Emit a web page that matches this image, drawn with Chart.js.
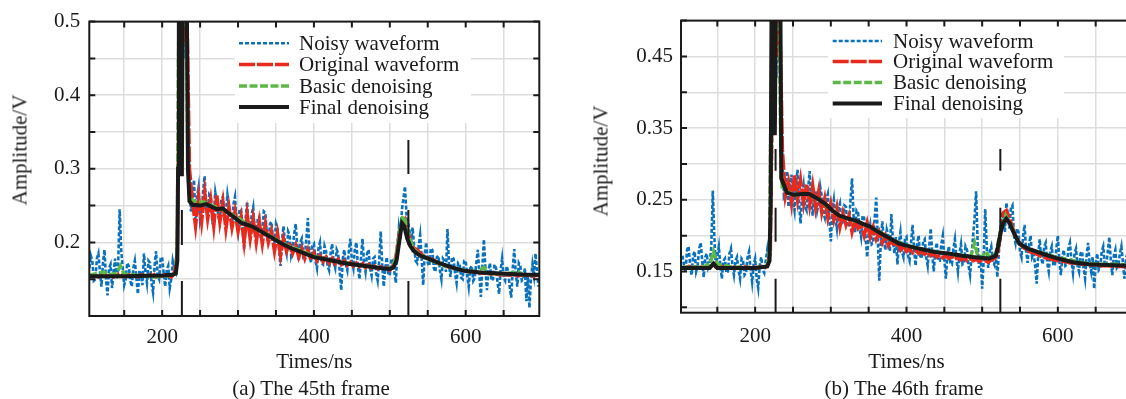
<!DOCTYPE html>
<html>
<head>
<meta charset="utf-8">
<script src="https://cdn.jsdelivr.net/npm/chart.js@4.4.0/dist/chart.umd.min.js"></script>
<style>
  html, body { margin:0; padding:0; background:#fff; overflow:hidden; width:1126px; height:399px; }
  .wrap { position:absolute; top:0; }
  .txt { position:absolute; font-family:'Liberation Serif','Times New Roman',serif; font-size:21px; color:#1a1a1a; white-space:nowrap; line-height:25px; }
  .ytitle { transform:translate(-50%,-50%) rotate(-90deg); }
  .caption { transform:translate(-50%,-50%); }
</style>
</head>
<body>
<div class="wrap" style="left:0"><canvas id="chart45" width="560" height="399"></canvas></div>
<div class="wrap" style="left:560px"><canvas id="chart46" width="600" height="399"></canvas></div>
<div class="txt ytitle" style="left:20px;top:150px">Amplitude/V</div>
<div class="txt ytitle" style="left:601px;top:161px">Amplitude/V</div>
<div class="txt caption" style="left:311px;top:388px">(a) The 45th frame</div>
<div class="txt caption" style="left:904px;top:388px">(b) The 46th frame</div>

<script>

// sampling grids: noisy record every 2 ns, original record every 4 ns
const noiseT  = Array.from({ length: 297 }, (_, i) => 104 + 2 * i)
const sampleT = Array.from({ length: 149 }, (_, i) => 104 + 4 * i)

const seriesNames = ['Noisy waveform', 'Original waveform', 'Basic denoising', 'Final denoising']

// ---- 45th frame ----
const noisy45 = [
  .165,.182,.175,.148,.150,.178,.185,.160,.140,.172,.190,.150,.128,.165,.170,.138,.160,.178,.150,.168,
  .245,.190,.165,.142,.150,.172,.168,.148,.140,.165,.175,.152,.130,.162,.158,.142,.185,.160,.145,.175,
  .172,.145,.132,.168,.188,.155,.150,.178,.180,.158,.140,.162,.168,.138,.150,.175,.165,.160,.200,.350,
  .560,.520,.450,.600,.580,.400,.270,.242,.260,.285,.222,.262,.275,.230,.240,.270,.290,.248,.235,.265,
  .262,.232,.238,.268,.255,.235,.228,.258,.262,.232,.240,.265,.250,.238,.222,.252,.262,.228,.215,.245,
  .245,.220,.190,.232,.255,.218,.210,.238,.248,.215,.205,.232,.235,.205,.215,.242,.240,.210,.198,.225,
  .228,.205,.200,.225,.218,.190,.168,.205,.222,.195,.185,.215,.210,.182,.190,.212,.225,.195,.175,.200,
  .205,.180,.182,.205,.233,.190,.172,.195,.198,.175,.165,.192,.200,.172,.170,.195,.188,.168,.162,.185,
  .198,.172,.165,.190,.185,.160,.135,.178,.190,.170,.162,.188,.205,.175,.165,.192,.200,.168,.150,.178,
  .205,.172,.160,.185,.190,.165,.155,.178,.180,.158,.148,.175,.215,.170,.140,.165,.180,.158,.155,.178,
  .175,.160,.145,.190,.220,.205,.245,.260,.276,.238,.230,.215,.200,.220,.195,.175,.172,.195,.210,.178,
  .142,.185,.200,.172,.168,.192,.190,.165,.160,.180,.182,.162,.150,.178,.175,.160,.218,.170,.153,.180,
  .178,.158,.145,.172,.170,.152,.150,.175,.175,.155,.140,.165,.168,.148,.152,.172,.190,.158,.126,.168,
  .204,.165,.135,.162,.172,.148,.150,.170,.165,.145,.130,.162,.178,.152,.148,.168,.160,.140,.125,.165,
  .191,.158,.140,.172,.168,.148,.150,.165,.120,.155,.111,.150,.170,.155,.185,.160,.140
]
const original45 = [
  .155,.154,.156,.153,.155,.157,.154,.155,.153,.156,
  .158,.155,.153,.156,.154,.155,.153,.156,.155,.154,
  .156,.158,.153,.155,.154,.156,.155,.153,.158,.185,
  .540,.470,.560,.300,.255,.222,.262,.228,.268,.232,
  .258,.222,.265,.228,.255,.218,.248,.220,.242,.215,
  .235,.200,.238,.205,.232,.200,.228,.198,.225,.200,
  .215,.188,.212,.182,.205,.188,.200,.185,.196,.180,
  .192,.178,.190,.176,.186,.175,.182,.174,.180,.172,
  .178,.171,.177,.170,.175,.169,.173,.168,.172,.167,
  .171,.166,.170,.165,.168,.164,.167,.163,.166,.162,
  .168,.180,.210,.228,.232,.215,.198,.192,.190,.186,
  .182,.180,.178,.177,.174,.172,.170,.169,.167,.166,
  .165,.164,.163,.162,.161,.161,.160,.159,.159,.158,
  .158,.158,.157,.157,.157,.156,.156,.156,.156,.155,
  .156,.155,.155,.156,.155,.155,.154,.155,.155
]
const basic45T = [104,123,130,140,145,150,170,190,210,218,220,221.5,223,226,228,232,234,236,245,255,265,275,285,300,320,340,360,380,400,430,460,490,502,508,513,517,521,526,532,545,560,580,600,615,624,630,650,670,675,697]
const basic45  = [.155,.160,.156,.158,.168,.157,.155,.153,.155,.158,.200,.450,.560,.500,.560,.500,.300,.260,.255,.255,.250,.247,.242,.233,.220,.210,.198,.190,.181,.174,.169,.165,.165,.178,.215,.236,.228,.205,.190,.180,.173,.166,.162,.160,.166,.158,.157,.160,.156,.156]
const final45T = [104,150,200,214,218,220,221,222,224.5,226,227.5,232,234,236,240,250,258,266,272,280,287,295,305,312,320,330,340,350,360,370,380,390,400,415,430,445,460,475,490,500,505,509,513,516,519,523,527,532,540,548,558,570,585,600,620,640,660,680,697]
const final45  = [.154,.154,.155,.156,.158,.175,.300,.600,.600,.290,.600,.600,.300,.256,.251,.250,.252,.248,.245,.246,.240,.234,.226,.224,.221,.215,.209,.203,.197,.192,.188,.184,.180,.177,.174,.171,.169,.167,.165,.164,.166,.176,.205,.226,.222,.205,.195,.188,.182,.179,.175,.170,.165,.161,.159,.158,.157,.156,.156]
const marks45 = [226, 524.5]
const markTop45 = 0.339

// ---- 46th frame ----
const noisy46 = [
  .172,.158,.150,.180,.185,.160,.145,.172,.178,.150,.158,.182,.190,.165,.142,.170,.175,.155,.160,.185,
  .263,.200,.155,.172,.185,.158,.140,.165,.168,.148,.150,.175,.182,.158,.145,.165,.170,.152,.140,.168,
  .165,.145,.148,.170,.178,.152,.135,.160,.168,.140,.127,.158,.170,.152,.148,.165,.180,.160,.190,.300,
  .520,.500,.420,.580,.560,.420,.300,.255,.260,.290,.240,.268,.285,.248,.235,.272,.292,.245,.217,.255,
  .270,.240,.235,.265,.290,.250,.228,.262,.262,.235,.245,.268,.255,.232,.225,.250,.258,.222,.192,.235,
  .250,.225,.210,.238,.245,.215,.220,.242,.240,.212,.215,.250,.280,.228,.205,.235,.232,.210,.198,.228,
  .225,.198,.170,.205,.215,.188,.190,.225,.253,.200,.137,.190,.220,.195,.180,.208,.200,.178,.230,.195,
  .175,.198,.160,.190,.205,.178,.170,.195,.198,.172,.165,.190,.215,.182,.158,.188,.200,.172,.168,.192,
  .195,.170,.158,.185,.210,.175,.150,.178,.190,.165,.165,.188,.200,.168,.140,.172,.185,.162,.160,.182,
  .195,.168,.150,.175,.188,.160,.162,.185,.180,.158,.145,.172,.200,.225,.262,.190,.155,.170,.126,.165,
  .237,.185,.155,.178,.185,.165,.160,.175,.142,.175,.210,.232,.225,.205,.246,.228,.210,.238,.242,.200,
  .190,.210,.205,.178,.170,.198,.215,.180,.162,.188,.200,.170,.175,.158,.133,.172,.195,.168,.160,.185,
  .190,.162,.150,.178,.185,.160,.158,.182,.200,.165,.145,.172,.180,.158,.160,.182,.190,.165,.148,.175,
  .182,.158,.150,.175,.178,.155,.140,.172,.190,.162,.150,.170,.126,.160,.175,.152,.155,.178,.185,.158,
  .160,.178,.198,.165,.145,.172,.180,.155,.158,.175,.185,.162,.140,.168,.175,.150,.162
]
const original46 = [
  .156,.155,.157,.155,.156,.154,.156,.155,.157,.156,
  .160,.156,.155,.157,.155,.156,.154,.156,.155,.156,
  .155,.157,.156,.154,.156,.155,.157,.155,.158,.175,
  .520,.450,.540,.320,.255,.275,.245,.285,.250,.278,
  .245,.272,.242,.270,.238,.262,.232,.252,.225,.245,
  .222,.240,.212,.232,.215,.228,.205,.222,.210,.215,
  .200,.218,.198,.212,.195,.205,.190,.200,.186,.194,
  .185,.190,.180,.186,.178,.182,.176,.180,.175,.178,
  .174,.177,.172,.175,.170,.173,.169,.172,.168,.171,
  .167,.170,.166,.169,.165,.168,.165,.167,.164,.166,
  .165,.163,.166,.168,.172,.200,.232,.235,.225,.212,
  .200,.192,.186,.182,.180,.177,.176,.174,.172,.170,
  .169,.168,.167,.166,.165,.164,.164,.163,.162,.162,
  .161,.161,.160,.160,.160,.159,.159,.159,.158,.158,
  .158,.158,.157,.158,.157,.157,.157,.156,.156
]
const basic46T = [102,130,140,145,150,170,200,216,219,221,223,226,228,232,234,236,245,255,270,285,300,315,335,350,365,380,395,410,430,460,485,490,494,500,505,510,518,524,531,540,548,560,575,600,620,640,660,680,698]
const basic46  = [.156,.156,.160,.178,.160,.156,.155,.158,.180,.400,.560,.450,.560,.500,.300,.265,.260,.257,.258,.250,.237,.226,.220,.213,.205,.195,.188,.184,.179,.174,.171,.190,.172,.170,.178,.170,.175,.205,.228,.210,.190,.182,.177,.169,.165,.161,.160,.160,.158]
const final46T = [102,140,145,150,200,216,219,220.5,222,224.8,226,227.8,233,234.5,242,251,262,271,282,293,302,311,322,333,343,351,360,368,380,390,400,412,425,438,455,474,490,509,518,521,524.5,528,532,536,540,545,549,560,571,585,597,620,641,665,685,698]
const final46  = [.155,.155,.161,.155,.155,.157,.165,.250,.600,.600,.340,.600,.600,.280,.260,.257,.258,.258,.252,.244,.235,.228,.224,.221,.216,.213,.207,.202,.195,.189,.186,.183,.180,.177,.175,.172,.170,.168,.172,.185,.205,.218,.2235,.218,.208,.197,.189,.182,.178,.173,.169,.163,.160,.159,.1585,.158]
const marks46 = [227, 524]
const markTop46 = 0.321


const ink = '#1a1a1a'
const serif = "'Liberation Serif', 'Times New Roman', serif"
const textFont = { family: serif, size: 21 }

const styles = [
  { color: '#0a72bc', width: 2.6, dash: [4, 2],  order: 4 },
  { color: '#e8291c', width: 3.5, dash: [16, 2], order: 3 },
  { color: '#5db847', width: 3.5, dash: [8, 2.5], order: 2 },
  { color: '#1a1a1a', width: 4,   dash: [],      order: 1 },
]

function pts(t, v){ return t.map((x, i) => ({ x: x, y: v[i] })) }


function makeSets(series, marks, yLow, markTop, markDash){

      const sets = series.map((s, i) => ({
            label: seriesNames[i],
            data: pts(s[0], s[1]),
            borderColor: styles[i].color,
            borderWidth: styles[i].width,
            borderDash: styles[i].dash,
            order: styles[i].order,
      }))

      // dashed vertical markers
      marks.forEach(m => {
            sets.push({
                  data: [{ x: m, y: yLow }, { x: m, y: markTop }],
                  borderColor: ink,
                  borderWidth: 2,
                  borderDash: markDash,
                  order: 0,
            })
      })

      return sets
}


// legend with white box, drawn inside the plot
const boxLegend = {
      id: 'boxLegend',
      afterDatasetsDraw(chart, args, o){
            const ctx = chart.ctx
            ctx.save()
            ctx.fillStyle = '#fff'
            ctx.fillRect(o.box[0], o.box[1], o.box[2], o.box[3])
            chart.data.datasets.forEach((ds, i) => {
                  if(!ds.label) return
                  const y = o.rows[i]
                  ctx.beginPath()
                  ctx.setLineDash(ds.borderDash)
                  ctx.lineWidth = ds.borderWidth
                  ctx.strokeStyle = ds.borderColor
                  ctx.moveTo(o.x0, y)
                  ctx.lineTo(o.x1, y)
                  ctx.stroke()
                  ctx.setLineDash([])
                  ctx.fillStyle = ink
                  ctx.font = '21px ' + serif
                  ctx.textBaseline = 'middle'
                  ctx.fillText(ds.label, o.tx, y + 1)
            })
            ctx.restore()
      }
}

// box round the plot + inward ticks on all four sides
const frameTicks = {
      id: 'frameTicks',
      afterDatasetsDraw(chart){
            const { ctx, chartArea: a } = chart
            const x = chart.scales.x, y = chart.scales.y
            const len = 6
            ctx.save()
            ctx.setLineDash([])
            ctx.strokeStyle = ink
            ctx.lineWidth = 2
            ctx.beginPath()
            x.ticks.forEach(t => {
                  const px = x.getPixelForValue(t.value)
                  ctx.moveTo(px, a.bottom); ctx.lineTo(px, a.bottom - len)
                  ctx.moveTo(px, a.top);    ctx.lineTo(px, a.top + len)
            })
            y.ticks.forEach(t => {
                  const py = y.getPixelForValue(t.value)
                  ctx.moveTo(a.left, py);  ctx.lineTo(a.left + len, py)
                  ctx.moveTo(a.right, py); ctx.lineTo(a.right - len, py)
            })
            ctx.stroke()
            ctx.strokeRect(a.left, a.top, a.right - a.left, a.bottom - a.top)
            ctx.restore()
      }
}


function create(detail){

      const grid = { color: '#dddddd', lineWidth: 1.5, drawTicks: false }

      const setup = {
            type: 'line',
            data: { datasets: makeSets(detail.series, detail.marks, detail.yMin, detail.markTop, detail.markDash) },
            options: {
                  responsive: false,
                  animation: false,
                  devicePixelRatio: 1,
                  events: [],
                  layout: { padding: detail.padding },
                  elements: { point: { radius: 0 }, line: { tension: 0, borderCapStyle: 'butt' } },
                  plugins: {
                        legend: { display: false },
                        tooltip: { enabled: false },
                        boxLegend: detail.legend,
                  },
                  scales: {
                        x: {
                              type: 'linear',
                              min: detail.xMin, max: detail.xMax,
                              border: { display: false },
                              grid: grid,
                              ticks: {
                                    stepSize: 50, includeBounds: false, autoSkip: false, maxRotation: 0,
                                    padding: detail.xPad, color: ink, font: textFont,
                                    callback: v => (v % 200 === 0 ? String(v) : '')
                              },
                              title: { display: true, text: 'Times/ns', color: ink, font: textFont, padding: { top: 0, bottom: 24 } },
                              afterFit: s => { s.height = detail.xHeight }
                        },
                        y: {
                              type: 'linear',
                              min: detail.yMin, max: detail.yMax,
                              border: { display: false },
                              grid: grid,
                              ticks: {
                                    stepSize: 0.05, includeBounds: false, autoSkip: false,
                                    padding: detail.yPad, color: ink, font: textFont,
                                    callback: detail.yLabel
                              },
                              afterFit: s => { s.width = detail.yWidth }
                        }
                  }
            },
            plugins: [boxLegend, frameTicks]
      }

      return new Chart(document.getElementById(detail.id), setup)
}


create({
      id: 'chart45',
      series: [[noiseT, noisy45], [sampleT, original45], [basic45T, basic45], [final45T, final45]],
      marks: marks45, markTop: markTop45, markDash: [35, 36],
      xMin: 104, xMax: 697, yMin: 0.1, yMax: 0.5,
      padding: { left: 0, top: 17, right: 560 - 539.3, bottom: 0 },
      yWidth: 89.3, xHeight: 83, xPad: 9, yPad: 9,
      yLabel: v => { const c = Math.round(v * 100); return (c % 10 === 0 && c > 10) ? String(c / 100) : '' },
      legend: { box: [235, 20, 236, 103], x0: 239, x1: 289, tx: 299, rows: [43.3, 64.5, 86, 107] },
})

create({
      id: 'chart46',
      series: [[noiseT, noisy46], [sampleT, original46], [basic46T, basic46], [final46T, final46]],
      marks: marks46, markTop: markTop46, markDash: [34, 37],
      xMin: 102, xMax: 698, yMin: 0.0925, yMax: 0.5,
      padding: { left: 0, top: 14, right: 600 - 572, bottom: 0 },
      yWidth: 121, xHeight: 399 - 312.7, xPad: 11, yPad: 8,
      yLabel: v => { const c = Math.round(v * 100); return (c % 10 === 5) ? String(c / 100) : '' },
      legend: { box: [268, 17, 236, 101], x0: 272.7, x1: 322, tx: 333, rows: [41, 61.5, 82.5, 103.5] },
})

</script>
</body>
</html>
